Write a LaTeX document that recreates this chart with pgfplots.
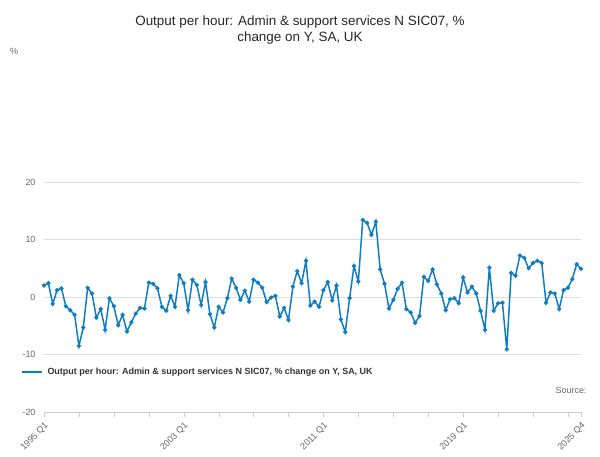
\documentclass[border=0pt]{standalone}
\usepackage{pgfplots}
\pgfplotsset{compat=1.18}
\usepackage{fontspec}
\setmainfont{Liberation Sans}
\definecolor{ln}{HTML}{0F7DC2}
\begin{document}
\begin{tikzpicture}[x=1bp,y=1bp]
\begin{axis}[at={(0,0)},anchor=origin,scale only axis,width=537bp,height=230bp,
 xmin=0,xmax=123,ymin=-20,ymax=20,
 axis x line*=bottom, axis y line*=left,
 y axis line style={draw=none}, ytick style={draw=none},
 ytick={-20,-10,0,10,20}, ymajorgrids, grid style={gray!25},
 xtick={0,32,64,96,123}, xticklabels={1995 Q1,2003 Q1,2011 Q1,2019 Q1,2025 Q4},
 minor xtick={8,16,24,40,48,56,72,80,88,104,112,120},
 x axis line style={draw=gray!40}, xtick style={draw=gray!40},
 major tick length=5bp, minor tick length=5bp, tick align=outside,
 xticklabel style={rotate=45,anchor=north east,font=\small,text=gray!80!black},
 yticklabel style={font=\small,text=gray!80!black},
 clip=false,
 /pgf/number format/assume math mode=true]
\addplot[ln,line width=1.5pt,mark=*,mark size=1.3pt] coordinates {
(0,2.0)(1,2.4)(2,-1.2)(3,1.2)(4,1.5)(5,-1.6)(6,-2.3)(7,-3.1)(8,-8.5)(9,-5.3)(10,1.6)(11,0.6)(12,-3.6)(13,-2.1)(14,-5.7)(15,-0.2)(16,-1.6)(17,-4.9)(18,-3.1)(19,-6.0)(20,-4.4)(21,-2.9)(22,-1.9)(23,-2.0)(24,2.5)(25,2.3)(26,1.5)(27,-1.7)(28,-2.4)(29,0.2)(30,-1.7)(31,3.8)
(32,2.4)(33,-2.3)(34,3.0)(35,2.1)(36,-1.4)(37,2.6)(38,-3.0)(39,-5.3)(40,-1.7)(41,-2.7)(42,-0.2)(43,3.2)(44,1.6)(45,-0.5)(46,1.1)(47,-0.8)(48,3.0)(49,2.5)(50,1.6)(51,-0.9)(52,-0.1)(53,0.2)(54,-3.4)(55,-1.9)(56,-4.0)(57,1.8)(58,4.5)(59,2.4)(60,6.3)(61,-1.5)
(62,-0.8)(63,-1.7)(64,1.2)(65,2.6)(66,-0.6)(67,2.0)(68,-3.9)(69,-6.1)(70,-0.2)(71,5.4)(72,2.7)(73,13.4)(74,12.9)(75,10.8)(76,13.1)(77,4.8)(78,2.3)(79,-2.0)(80,-0.5)(81,1.4)(82,2.5)(83,-2.1)(84,-2.7)(85,-4.5)(86,-3.3)(87,3.5)(88,2.8)(89,4.8)(90,2.2)
(91,0.6)(92,-2.3)(93,-0.4)(94,-0.2)(95,-1.1)(96,3.4)(97,0.8)(98,1.8)(99,0.6)(100,-2.4)(101,-5.7)(102,5.1)(103,-2.4)(104,-1.1)(105,-1.0)(106,-9.1)(107,4.2)(108,3.7)(109,7.2)(110,6.8)(111,5.0)(112,5.9)(113,6.3)(114,5.9)(115,-1.0)(116,0.8)(117,0.6)(118,-2.1)(119,1.2)(120,1.6)(121,3.1)(122,5.7)(123,4.9)};
\end{axis}
\useasboundingbox (-44,-103) rectangle (556,297);
\node[align=center,font=\fontsize{13.5}{17}\selectfont,text=black!85] at (256,267) {Output per hour: Admin \& support services N SIC07, \%\\change on Y, SA, UK};
\node[font=\small,text=gray!80!black] at (-30,246) {\%};
\draw[ln,line width=1.5pt] (-22,-75) -- (-2,-75);
\fill[ln] (-12,-75) circle (1.3pt);
\node[anchor=west,font=\small\bfseries,text=black!80] at (0,-75) {Output per hour: Admin \& support services N SIC07, \% change on Y, SA, UK};
\node[anchor=east,font=\small,text=gray!80!black] at (546,-93) {Source:};
\end{tikzpicture}
\end{document}
